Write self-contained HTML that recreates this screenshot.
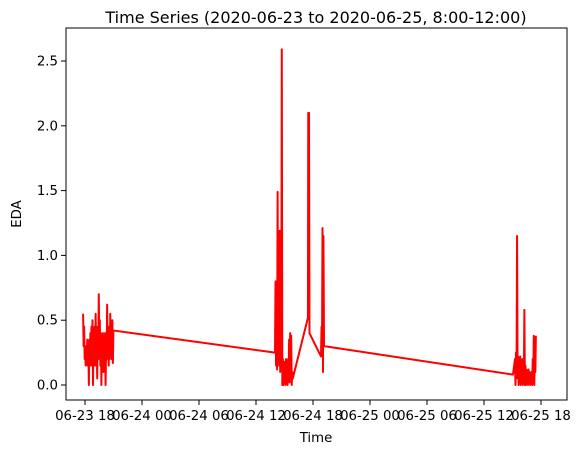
<!DOCTYPE html>
<html><head><meta charset="utf-8"><style>
body{margin:0;background:#fff;}
svg text{font-family:"DejaVu Sans","Liberation Sans",sans-serif;fill:#000;}
</style></head><body>
<svg id="chart" width="581" height="455">
<rect width="581" height="455" fill="#fff"/>
<text x="316" y="23" font-size="16" text-anchor="middle">Time Series (2020-06-23 to 2020-06-25, 8:00-12:00)</text>
<g id="yticks"></g>
<g id="xticks"></g>
<path id="line" fill="none" stroke="#ff0000" stroke-width="2" stroke-linejoin="round"/>
<rect x="66" y="28" width="501" height="372" fill="none" stroke="#000" stroke-width="1"/>
<text x="316" y="442" font-size="13.3" text-anchor="middle">Time</text>
<text x="21" y="214" font-size="13.3" text-anchor="middle" transform="rotate(-90 21 214)">EDA</text>
</svg>
<script>
// time in hours since 2020-06-23 18:00
const xTickHours=[0,6,12,18,24,30,36,42,48];
const xTickLabels=["06-23 18","06-24 00","06-24 06","06-24 12","06-24 18","06-25 00","06-25 06","06-25 12","06-25 18"];
const yTickValues=[0,0.5,1,1.5,2,2.5];
const yTickLabels=["0.0","0.5","1.0","1.5","2.0","2.5"];
const sampleStep=0.055;
const cluster1Start=-0.2;
const cluster1Values=[0.55,0.3,0.45,0.2,0.25,0.15,0.3,0.2,0.35,0.15,0.3,0.0,0.35,0.2,0.4,0.15,0.45,0.2,0.5,0.0,0.4,0.2,0.45,0.15,0.55,0.2,0.35,0.05,0.45,0.2,0.7,0.3,0.5,0.15,0.4,0.0,0.35,0.2,0.4,0.1,0.3,0.2,0.4,0.0,0.3,0.2,0.62,0.25,0.4,0.15,0.45,0.2,0.55,0.25,0.45,0.2,0.5,0.17,0.42,0.42];
const cluster2Start=20.0;
const cluster2Values=[0.25,0.8,0.15,0.5,0.12,1.49,0.2,0.6,0.15,1.19,0.1,0.4,0.15,2.59,0.0,0.2,0.0,0.15,0.05,0.18,0.0,0.2,0.05,0.18,0.0,0.2,0.05,0.35,0.02,0.4,0.1,0.38,0.0,0.1,0.05];
const midTimes=[23.47,23.5,23.53,23.58,23.63,24.84,24.9,24.95,25.0,25.05,25.1,25.16,45.05];
const midValues=[0.52,2.1,0.52,2.1,0.4,0.22,0.45,0.3,1.21,0.1,1.15,0.3,0.08];
const cluster3Start=45.26;
const cluster3Values=[0.2,0.0,0.25,0.05,1.15,0.1,0.22,0.0,0.2,0.05,0.22,0.0,0.15,0.05,0.2,0.0,0.12,0.05,0.58,0.0,0.15,0.0,0.12,0.02,0.1,0.0,0.12,0.05,0.1,0.0,0.08,0.02,0.1,0.0,0.2,0.05,0.38,0.0,0.3,0.1,0.38];

const xScale=h=>85+h*(57/6);
const yScale=v=>385-v*129.6;
const NS="http://www.w3.org/2000/svg";
const pts=[];
cluster1Values.forEach((v,i)=>pts.push([cluster1Start+i*sampleStep,v]));
cluster2Values.forEach((v,i)=>pts.push([cluster2Start+i*sampleStep,v]));
midTimes.forEach((t,i)=>pts.push([t,midValues[i]]));
cluster3Values.forEach((v,i)=>pts.push([cluster3Start+i*sampleStep,v]));
document.getElementById('line').setAttribute('d',pts.map((p,i)=>(i?'L':'M')+xScale(p[0]).toFixed(2)+','+yScale(p[1]).toFixed(2)).join(''));

const yg=document.getElementById('yticks');
yTickValues.forEach((v,i)=>{
  const y=yScale(v);
  const l=document.createElementNS(NS,'line');
  l.setAttribute('x1',61);l.setAttribute('x2',66);l.setAttribute('y1',y);l.setAttribute('y2',y);l.setAttribute('stroke','#000');
  
  
  yg.appendChild(l);
  const t=document.createElementNS(NS,'text');
  t.setAttribute('x',58);t.setAttribute('y',y+4.5);t.setAttribute('font-size','13.3');t.setAttribute('text-anchor','end');
  t.textContent=yTickLabels[i];
  
  
  yg.appendChild(t);
});
const xg=document.getElementById('xticks');
xTickHours.forEach((h,i)=>{
  const x=xScale(h);
  const l=document.createElementNS(NS,'line');
  l.setAttribute('x1',x);l.setAttribute('x2',x);l.setAttribute('y1',400);l.setAttribute('y2',405);l.setAttribute('stroke','#000');
  
  
  xg.appendChild(l);
  const t=document.createElementNS(NS,'text');
  t.setAttribute('x',x);t.setAttribute('y',420);t.setAttribute('font-size','13.3');t.setAttribute('text-anchor','middle');
  t.textContent=xTickLabels[i];
  
  
  xg.appendChild(t);
});
</script>
</body></html>
